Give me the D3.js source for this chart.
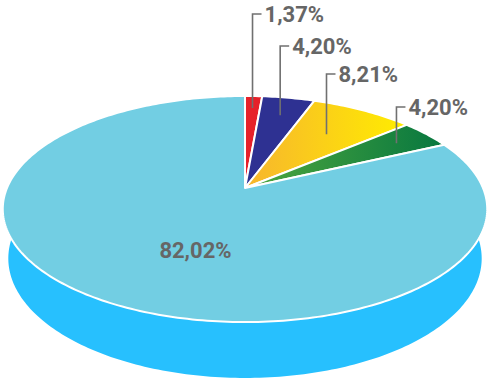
<!DOCTYPE html>
<html>
<head>
<meta charset="utf-8">
<script src="https://cdn.jsdelivr.net/npm/d3@7"></script>
<style>
  body { margin: 0; background: #fff; }
  svg { display: block; }
  text { font-family: Roboto, "Open Sans", sans-serif; font-weight: 700; fill: #666; }
</style>
</head>
<body>
<svg id="chart"></svg>
<script>
// slices, clockwise from 12 o'clock
var labels = ["1,37%", "4,20%", "8,21%", "4,20%", "82,02%"];
var values = [1.37, 4.20, 8.21, 4.20, 82.02];
var colors = ["#e6212a", "#2e3192", "url(#gYellow)", "url(#gGreen)", "#72cee3"];
var sideColor = "#27c0fe";

// where the leader lines start inside each small slice (fraction of radius)
var leaderFrac = [0.85, 0.78, 0.66, 0.82];
var labelRows = [14, 46, 74, 107];

var width = 492, height = 378;
var cx = 245, cy = 188;
var R = 238, depth = 56, D = 1137;
var beta = 27.3 * Math.PI / 180;
var sb = Math.sin(beta), cb = Math.cos(beta);

var svg = d3.select("#chart").attr("width", width).attr("height", height);

var defs = svg.append("defs");
var gy = defs.append("linearGradient").attr("id", "gYellow");
gy.append("stop").attr("offset", "0%").attr("stop-color", "#f7b52e");
gy.append("stop").attr("offset", "100%").attr("stop-color", "#ffed00");
var gg = defs.append("linearGradient").attr("id", "gGreen");
gg.append("stop").attr("offset", "0%").attr("stop-color", "#4fa83d");
gg.append("stop").attr("offset", "100%").attr("stop-color", "#077740");

// perspective projection of a point on the disc (r = fraction of radius)
function proj(r, a, yw) {
  var x = r * R * Math.sin(a), z = -r * R * Math.cos(a);
  var yv = yw * cb - z * sb;
  var zv = z * cb + yw * sb;
  var s = D / (D - zv);
  return [cx + x * s, cy - yv * s];
}

function arcPoints(a0, a1, yw) {
  var n = Math.max(2, Math.ceil((a1 - a0) / (Math.PI / 180)));
  var pts = [];
  for (var i = 0; i <= n; i++) pts.push(proj(1, a0 + (a1 - a0) * i / n, yw));
  return pts;
}

var pie = d3.pie().sort(null).value(function(d) { return d; })
  .startAngle(0).endAngle(2 * Math.PI);
var arcs = pie(values);
var line = d3.line().curve(d3.curveLinearClosed);

// outer walls (front half only)
arcs.forEach(function(d, i) {
  var a0 = Math.max(d.startAngle, Math.PI / 2);
  var a1 = Math.min(d.endAngle, 3 * Math.PI / 2);
  if (a1 <= a0) return;
  var top = arcPoints(a0, a1, 0);
  var bot = arcPoints(a0, a1, -depth).reverse();
  svg.append("path")
    .attr("d", line(top.concat(bot)))
    .attr("fill", sideColor);
});

// top faces
svg.selectAll("path.top")
  .data(arcs)
  .enter()
  .append("path")
  .attr("class", "top")
  .attr("d", function(d) {
    return line([proj(0, 0, 0)].concat(arcPoints(d.startAngle, d.endAngle, 0)));
  })
  .attr("fill", function(d, i) { return colors[i]; })
  .attr("stroke", "#fff")
  .attr("stroke-width", 2)
  .attr("stroke-linejoin", "round");

// outside labels with leader lines
var outside = arcs.slice(0, arcs.length - 1);
outside.forEach(function(d, i) {
  var mid = (d.startAngle + d.endAngle) / 2;
  var p = proj(leaderFrac[i], mid, 0);
  var ly = labelRows[i];
  svg.append("path")
    .attr("d", "M" + p[0] + "," + p[1] + "V" + ly + "H" + (p[0] + 9))
    .attr("fill", "none")
    .attr("stroke", "#707070")
    .attr("stroke-width", 1.6);
  svg.append("text")
    .attr("x", p[0] + 12)
    .attr("y", ly)
    .attr("dy", "0.36em")
    .attr("font-size", 22)
    .text(labels[i]);
});

// big slice label inside
var big = proj(0.55, 200 * Math.PI / 180, 0);
svg.append("text")
  .attr("x", big[0])
  .attr("y", big[1])
  .attr("dy", "0.36em")
  .attr("text-anchor", "middle")
  .attr("font-size", 22)
  .text(labels[labels.length - 1]);
</script>
</body>
</html>
